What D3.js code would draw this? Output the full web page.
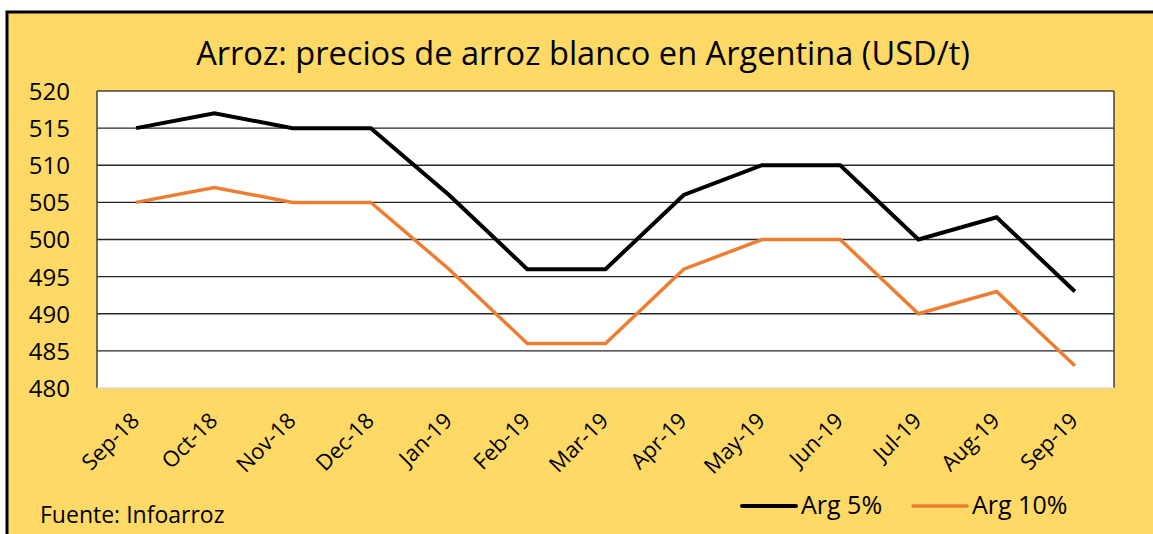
<!DOCTYPE html>
<html><head><meta charset="utf-8">
<script src="https://cdn.jsdelivr.net/npm/d3@7"></script>
<style>
html,body{margin:0;padding:0;background:#fff;}
svg{display:block;}
text{font-family:"Open Sans","Noto Sans",sans-serif;fill:#000;}
</style></head>
<body>
<script>
const categories = ["Sep-18","Oct-18","Nov-18","Dec-18","Jan-19","Feb-19","Mar-19","Apr-19","May-19","Jun-19","Jul-19","Aug-19","Sep-19"];
const arg5 = [515,517,515,515,506,496,496,506,510,510,500,503,493];
const arg10 = [505,507,505,505,496,486,486,496,500,500,490,493,483];
const yTicks = [480,485,490,495,500,505,510,515,520];
const seriesNames = ["Arg 5%","Arg 10%"];
const title = "Arroz: precios de arroz blanco en Argentina (USD/t)";
const source = "Fuente: Infoarroz";

const W = 1153, H = 534;
const FONT = '"Open Sans","Noto Sans",sans-serif';
const svg = d3.select("body").append("svg").attr("width", W).attr("height", H);

// frame
svg.append("rect").attr("x",7).attr("y",12).attr("width",W+10).attr("height",H+10)
  .attr("fill","#FFD966").attr("stroke","#000").attr("stroke-width",3);

const plot = {l:97, t:91, r:1114, b:388};
const x = d3.scalePoint().domain(categories).range([plot.l, plot.r]).padding(0.5);
const y = d3.scaleLinear().domain([480,520]).range([plot.b, plot.t]);

svg.append("rect").attr("x",plot.l).attr("y",plot.t).attr("width",plot.r-plot.l).attr("height",plot.b-plot.t).attr("fill","#fff");

// gridlines
svg.append("g").selectAll("line").data(yTicks.filter(d=>d>480)).join("line")
  .attr("x1",plot.l).attr("x2",plot.r).attr("y1",d=>y(d)).attr("y2",d=>y(d))
  .attr("stroke",d=>d===520?"#404040":"#262626").attr("stroke-width",1.3);

// left/right borders
svg.append("line").attr("x1",plot.l).attr("x2",plot.l).attr("y1",plot.t).attr("y2",plot.b).attr("stroke","#404040").attr("stroke-width",1.5);
svg.append("line").attr("x1",plot.r).attr("x2",plot.r).attr("y1",plot.t).attr("y2",plot.b).attr("stroke","#404040").attr("stroke-width",1.5);
// x axis line
svg.append("line").attr("x1",plot.l).attr("x2",plot.r).attr("y1",plot.b).attr("y2",plot.b).attr("stroke","#d9d9d9").attr("stroke-width",1.5);

// y axis labels
const yAxis = d3.axisLeft(y).tickValues(yTicks).tickSize(0).tickPadding(0);
const yg = svg.append("g").attr("transform",`translate(70,0)`).call(yAxis);
yg.select(".domain").remove();
yg.selectAll("text").style("font-family",FONT).style("font-size","24px").attr("fill","#000").attr("dy","0.35em");

// x axis labels
const xAxis = d3.axisBottom(x).tickSize(0).tickPadding(0);
const xg = svg.append("g").attr("transform",`translate(0,${plot.b})`).call(xAxis);
xg.select(".domain").remove();
xg.selectAll("text").style("font-family",FONT).style("font-size","22px").attr("fill","#000")
  .attr("text-anchor","end").attr("dy",null).attr("y",null)
  .attr("transform","translate(4,34) rotate(-45)");

// lines
const line = d3.line().x((d,i)=>x(categories[i])).y(d=>y(d));
svg.append("path").datum(arg10).attr("d",line).attr("fill","none").attr("stroke","#ED7D31").attr("stroke-width",3.5).attr("stroke-linejoin","miter");
svg.append("path").datum(arg5).attr("d",line).attr("fill","none").attr("stroke","#000").attr("stroke-width",4).attr("stroke-linejoin","miter");

// title
svg.append("text").attr("x",583).attr("y",65).attr("text-anchor","middle").style("font-size","32.6px").text(title);

// source
svg.append("text").attr("x",40).attr("y",523).style("font-size","23px").text(source);

// legend
const leg = [{name:seriesNames[0],color:"#000",x:742,w:4},{name:seriesNames[1],color:"#ED7D31",x:913,w:3.5}];
leg.forEach(l=>{
  svg.append("line").attr("x1",l.x).attr("x2",l.x+54).attr("y1",506).attr("y2",506).attr("stroke",l.color).attr("stroke-width",l.w).attr("stroke-linecap","round");
  svg.append("text").attr("x",l.x+59).attr("y",514).style("font-size","25px").text(l.name);
});
</script>
</body></html>
